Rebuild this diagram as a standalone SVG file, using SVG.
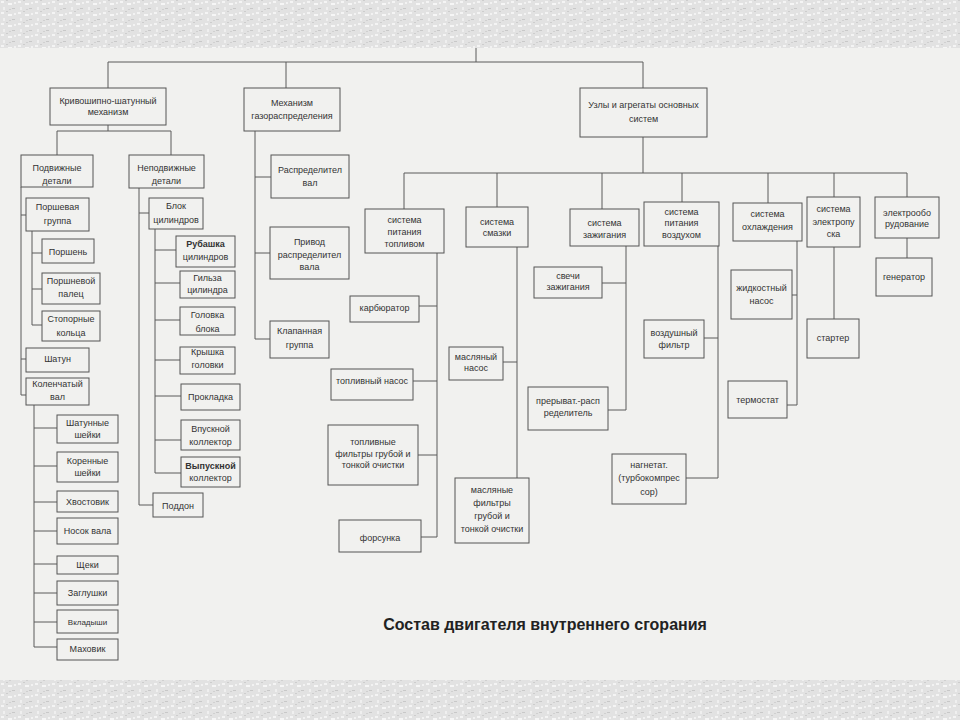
<svg xmlns="http://www.w3.org/2000/svg" width="960" height="720" viewBox="0 0 960 720">
<defs>
<pattern id="speck" width="17" height="11" patternUnits="userSpaceOnUse">
<rect width="17" height="11" fill="#e2e2e2"/>
<rect x="1" y="1" width="3" height="2" fill="#f4f4f4"/>
<rect x="8" y="3" width="4" height="2" fill="#f6f6f6"/>
<rect x="3" y="7" width="2" height="3" fill="#efefef"/>
<rect x="12" y="8" width="3" height="1" fill="#c8c8c8"/>
<rect x="6" y="0" width="2" height="1" fill="#cdcdcd"/>
<rect x="14" y="2" width="2" height="2" fill="#f2f2f2"/>
<rect x="9" y="9" width="2" height="1" fill="#d0d0d0"/>
</pattern>
<style>
.b{fill:none;stroke:#555;stroke-width:1}
.c{fill:none;stroke:#5a5a5a;stroke-width:1}
text{font-family:"Liberation Sans",Arial,sans-serif;font-size:9px;fill:#333;text-anchor:middle}
.bd{font-weight:bold}
.sm{font-size:8px}
.title{font-size:16px;font-weight:bold;fill:#222}
</style>
</defs>
<rect width="960" height="720" fill="#f1f1ef"/>
<rect width="960" height="48" fill="url(#speck)"/>
<rect y="680" width="960" height="40" fill="url(#speck)"/>

<g id="connectors">
<path class="c" d="M476,48V62M108,62H643M108,62V88M286,62V88M643,62V88"/>
<path class="c" d="M108,125V131M57,131H171M57,131V155M171,131V155"/>
<path class="c" d="M21,187V395M21,215H26M21,359H26M21,395H26"/>
<path class="c" d="M32,231V325M32,253H42M32,289H42M32,325H42"/>
<path class="c" d="M34,405V647M34,428H57M34,466H57M34,502H57M34,531H57M34,564H57M34,593H57M34,622H57M34,647H57"/>
<path class="c" d="M139,188V505M139,213H149M139,505H153"/>
<path class="c" d="M155,229V473M155,250H176M155,283H180M155,320H180M155,360H180M155,396H181M155,440H181M155,473H181"/>
<path class="c" d="M255,131V339M255,177H271M255,253H270M255,339H270"/>
<path class="c" d="M643,137V173M404,173H907M404,173V209M497,173V207M602,173V209M682,173V202M768,173V203M834,173V197M907,173V197"/>
<path class="c" d="M437,253V537M419,306H437M413,381H437M418,455H437M421,537H437"/>
<path class="c" d="M517,247V478M503,362H517"/>
<path class="c" d="M626,246V410M602,283H626M608,410H626"/>
<path class="c" d="M718,246V478M704,338H718M686,478H718"/>
<path class="c" d="M797,241V405M792,295H797M787,405H797"/>
<path class="c" d="M834,247V319M907,238V258"/>
</g>

<g id="n1"><rect class="b" x="50" y="88" width="116" height="37"/><text x="108" y="104">Кривошипно-шатунный</text><text x="108" y="115">механизм</text></g>
<g id="n2"><rect class="b" x="244" y="88" width="96" height="43"/><text x="292" y="106">Механизм</text><text x="292" y="119">газораспределения</text></g>
<g id="n3"><rect class="b" x="580" y="88" width="127" height="49"/><text x="643.5" y="108">Узлы  и агрегаты основных</text><text x="643.5" y="122">систем</text></g>

<g id="n4"><rect class="b" x="21" y="155" width="72" height="32"/><text x="57" y="171">Подвижные</text><text x="57" y="184">детали</text></g>
<g id="n5"><rect class="b" x="129" y="155" width="75" height="33"/><text x="166.5" y="171">Неподвижные</text><text x="166.5" y="184">детали</text></g>

<g id="n6"><rect class="b" x="271" y="155" width="78" height="43"/><text x="310" y="173">Распределител</text><text x="310" y="186">вал</text></g>
<g id="n7"><rect class="b" x="270" y="227" width="79" height="52"/><text x="309.5" y="245">Привод</text><text x="309.5" y="257.5">распределител</text><text x="309.5" y="270">вала</text></g>
<g id="n8"><rect class="b" x="270" y="321" width="59" height="37"/><text x="299.5" y="334">Клапанная</text><text x="299.5" y="348">группа</text></g>

<g id="n9"><rect class="b" x="365" y="209" width="79" height="44"/><text x="404.5" y="223">система</text><text x="404.5" y="235">питания</text><text x="404.5" y="247">топливом</text></g>
<g id="n10"><rect class="b" x="466" y="207" width="62" height="40"/><text x="497" y="225">система</text><text x="497" y="236">смазки</text></g>
<g id="n11"><rect class="b" x="570" y="209" width="69" height="37"/><text x="604.5" y="226">система</text><text x="604.5" y="238">зажигания</text></g>
<g id="n12"><rect class="b" x="644" y="202" width="75" height="44"/><text x="681.5" y="215">система</text><text x="681.5" y="226">питания</text><text x="681.5" y="238">воздухом</text></g>
<g id="n13"><rect class="b" x="733" y="203" width="69" height="38"/><text x="767.5" y="217">система</text><text x="767.5" y="230">охлаждения</text></g>
<g id="n14"><rect class="b" x="807" y="197" width="53" height="50"/><text x="833.5" y="212">система</text><text x="833.5" y="225">электропу</text><text x="833.5" y="237">ска</text></g>
<g id="n15"><rect class="b" x="875" y="197" width="64" height="41"/><text x="907" y="216">электрообо</text><text x="907" y="227">рудование</text></g>

<g id="n16"><rect class="b" x="350" y="296" width="69" height="26"/><text x="384.5" y="311">карбюратор</text></g>
<g id="n17"><rect class="b" x="331" y="369" width="82" height="31"/><text x="372" y="384">топливный насос</text></g>
<g id="n18"><rect class="b" x="328" y="425" width="90" height="60"/><text x="373" y="445">топливные</text><text x="373" y="456.5">фильтры грубой и</text><text x="373" y="468">тонкой очистки</text></g>
<g id="n19"><rect class="b" x="339" y="520" width="82" height="32"/><text x="380" y="541">форсунка</text></g>

<g id="n20"><rect class="b" x="449" y="347" width="54" height="33"/><text x="476" y="360">масляный</text><text x="476" y="371">насос</text></g>
<g id="n21"><rect class="b" x="455" y="478" width="74" height="65"/><text x="492" y="493">масляные</text><text x="492" y="506">фильтры</text><text x="492" y="519">грубой и</text><text x="492" y="532">тонкой очистки</text></g>

<g id="n22"><rect class="b" x="534" y="267" width="68" height="31"/><text x="568" y="279">свечи</text><text x="568" y="290">зажигания</text></g>
<g id="n23"><rect class="b" x="528" y="387" width="80" height="43"/><text x="568" y="404">прерыват.-расп</text><text x="568" y="416">ределитель</text></g>

<g id="n24"><rect class="b" x="644" y="320" width="60" height="38"/><text x="674" y="336">воздушный</text><text x="674" y="348">фильтр</text></g>
<g id="n25"><rect class="b" x="612" y="454" width="74" height="50"/><text x="649" y="468">нагнетат.</text><text x="649" y="481">(турбокомпрес</text><text x="649" y="495">сор)</text></g>

<g id="n26"><rect class="b" x="731" y="270" width="61" height="49"/><text x="761.5" y="291">жидкостный</text><text x="761.5" y="304">насос</text></g>
<g id="n27"><rect class="b" x="728" y="381" width="59" height="37"/><text x="757.5" y="403">термостат</text></g>
<g id="n28"><rect class="b" x="807" y="319" width="52" height="39"/><text x="833" y="341">стартер</text></g>
<g id="n29"><rect class="b" x="876" y="258" width="56" height="38"/><text x="904" y="280">генератор</text></g>

<g id="n30"><rect class="b" x="26" y="198" width="63" height="33"/><text x="57.5" y="210">Поршевая</text><text x="57.5" y="224">группа</text></g>
<g id="n31"><rect class="b" x="42" y="239" width="52" height="24"/><text x="68" y="255">Поршень</text></g>
<g id="n32"><rect class="b" x="42" y="273" width="58" height="31"/><text x="71" y="284">Поршневой</text><text x="71" y="297">палец</text></g>
<g id="n33"><rect class="b" x="42" y="311" width="58" height="30"/><text x="71" y="322">Стопорные</text><text x="71" y="336">кольца</text></g>
<g id="n34"><rect class="b" x="26" y="348" width="63" height="24"/><text x="57.5" y="362">Шатун</text></g>
<g id="n35"><rect class="b" x="26" y="378" width="63" height="27"/><text x="57.5" y="387">Коленчатый</text><text x="57.5" y="400">вал</text></g>

<g id="n36"><rect class="b" x="57" y="415" width="61" height="28"/><text x="87.5" y="426">Шатунные</text><text x="87.5" y="438">шейки</text></g>
<g id="n37"><rect class="b" x="57" y="452" width="61" height="30"/><text x="87.5" y="464">Коренные</text><text x="87.5" y="476">шейки</text></g>
<g id="n38"><rect class="b" x="57" y="491" width="61" height="21"/><text x="87.5" y="504.5">Хвостовик</text></g>
<g id="n39"><rect class="b" x="57" y="518" width="61" height="26"/><text x="87.5" y="534">Носок вала</text></g>
<g id="n40"><rect class="b" x="57" y="556" width="61" height="18"/><text x="87.5" y="568">Щеки</text></g>
<g id="n41"><rect class="b" x="57" y="581" width="61" height="24"/><text x="87.5" y="596">Заглушки</text></g>
<g id="n42"><rect class="b" x="57" y="610" width="61" height="23"/><text class="sm" x="87.5" y="625">Вкладыши</text></g>
<g id="n43"><rect class="b" x="57" y="639" width="61" height="21"/><text x="87.5" y="652">Маховик</text></g>

<g id="n44"><rect class="b" x="149" y="198" width="54" height="31"/><text x="176" y="208.5">Блок</text><text x="176" y="222.5">цилиндров</text></g>
<g id="n45"><rect class="b" x="176" y="236" width="59" height="31"/><text class="bd" x="205.5" y="246.5">Рубашка</text><text x="205.5" y="260">цилиндров</text></g>
<g id="n46"><rect class="b" x="180" y="271" width="55" height="27"/><text x="207.5" y="280.5">Гильза</text><text x="207.5" y="293">цилиндра</text></g>
<g id="n47"><rect class="b" x="180" y="307" width="55" height="28"/><text x="207.5" y="318">Головка</text><text x="207.5" y="331.5">блока</text></g>
<g id="n48"><rect class="b" x="180" y="347" width="55" height="27"/><text x="207.5" y="355">Крышка</text><text x="207.5" y="368">головки</text></g>
<g id="n49"><rect class="b" x="181" y="384" width="59" height="26"/><text x="210.5" y="400">Прокладка</text></g>
<g id="n50"><rect class="b" x="181" y="420" width="59" height="30"/><text x="210.5" y="431.5">Впускной</text><text x="210.5" y="445">коллектор</text></g>
<g id="n51"><rect class="b" x="181" y="457" width="59" height="30"/><text class="bd" x="210.5" y="468.5">Выпускной</text><text x="210.5" y="481">коллектор</text></g>
<g id="n52"><rect class="b" x="153" y="493" width="50" height="24"/><text x="178" y="508.5">Поддон</text></g>

<text class="title" x="545" y="630">Состав двигателя внутреннего сгорания</text>
</svg>
